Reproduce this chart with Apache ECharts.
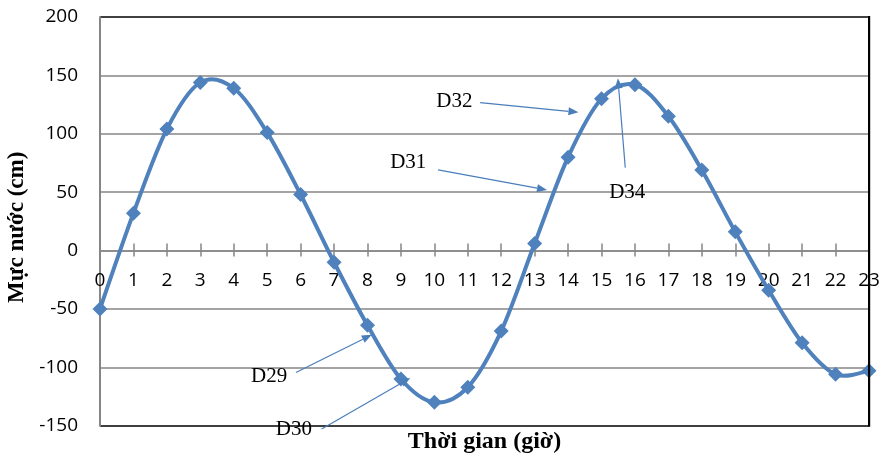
<!DOCTYPE html>
<html>
<head>
<meta charset="utf-8">
<script src="https://cdn.jsdelivr.net/npm/echarts@6/dist/echarts.min.js"></script>
<style>
html,body{margin:0;padding:0;background:#fff;}
#c{width:881px;height:458px;}
</style>
</head>
<body>
<div id="c"></div>
<script>
// Hours (x-axis ticks)
const hours = [0,1,2,3,4,5,6,7,8,9,10,11,12,13,14,15,16,17,18,19,20,21,22,23];
// Water level (cm)
const waterLevel = [-50, 32, 104, 144, 139, 101, 48, -10, -64, -110, -130, -117, -69, 6, 80, 130, 142, 115, 69, 16, -34, -79, -106, -103];
// Y-axis ticks
const yTicks = [-150, -100, -50, 0, 50, 100, 150, 200];

// Annotations (in data coordinates: [hour, cm])
const annLabels = ['D29', 'D30', 'D31', 'D32', 'D34'];
const annTextPos = [[5.06, -107.8], [5.80, -153.2], [9.22, 75.5], [10.60, 127.8], [15.77, 49.8]];
const annFrom = [[5.86, -104.4], [6.63, -152.8], [10.11, 69.1], [11.37, 126.6], [15.71, 71.0]];
const annTo = [[8.13, -72.1], [9.28, -109.2], [13.37, 51.9], [14.31, 118.4], [15.49, 147.5]];

const W = 881, H = 458;
const chart = echarts.init(document.getElementById('c'), null, {renderer: 'canvas'});
const labelFont = '"Open Sans", "Liberation Sans", sans-serif';
const serif = '"Liberation Serif", "DejaVu Serif", serif';
const blue = '#4F81BD';
const gray = '#868686';
const xMin = hours[0], xMax = hours[hours.length - 1];
const yMin = yTicks[0], yMax = yTicks[yTicks.length - 1];

const splitColors = yTicks.map((v, i) => (i === 0 || i === yTicks.length - 1) ? '#000' : gray);
// vertical split lines: only the last one (right frame) is visible
const xSplitColors = hours.map((h, i) => i === hours.length - 1 ? '#000' : 'rgba(0,0,0,0)');
const mainGrid = {left: 100, right: 12, top: 17, bottom: 32.3, outerBoundsMode: 'none'};

const seriesData = hours.map((h, i) => [h, waterLevel[i]]);
const N = seriesData.length;

// Smooth curve (Catmull-Rom style) drawn segment by segment through the library's coordinate system
function renderSegment(params, api) {
  const i = params.dataIndexInside;
  if (i >= N - 1) return null;
  const pt = k => {
    const kk = Math.max(0, Math.min(N - 1, k));
    return api.coord([api.value(0, kk), api.value(1, kk)]);
  };
  const p0 = pt(i - 1), p1 = pt(i), p2 = pt(i + 1), p3 = pt(i + 2);
  const t = 1 / 6;
  return {
    type: 'bezierCurve',
    shape: {
      x1: p1[0], y1: p1[1], x2: p2[0], y2: p2[1],
      cpx1: p1[0] + (p2[0] - p0[0]) * t, cpy1: p1[1] + (p2[1] - p0[1]) * t,
      cpx2: p2[0] - (p3[0] - p1[0]) * t, cpy2: p2[1] - (p3[1] - p1[1]) * t
    },
    style: {stroke: blue, lineWidth: 4, fill: null, lineCap: 'round'}
  };
}

const baseOption = {
  animation: false,
  grid: [mainGrid],
  xAxis: [{
    gridIndex: 0, type: 'value', position: 'bottom', min: xMin, max: xMax, interval: 1,
    axisLine: {show: false, onZero: false}, axisTick: {show: false}, axisLabel: {show: false},
    splitLine: {show: true, lineStyle: {color: xSplitColors, width: 2}},
    name: 'Thời gian (giờ)', nameLocation: 'middle', nameGap: 4,
    nameTextStyle: {color: '#000', fontSize: 24, fontWeight: 'bold', fontFamily: serif}
  }],
  yAxis: [
    {
      gridIndex: 0, type: 'value', position: 'left', min: yMin, max: yMax, interval: 50,
      axisLine: {show: true, onZero: false, lineStyle: {color: gray, width: 2}},
      axisTick: {show: false},
      axisLabel: {margin: 22, color: '#000', fontSize: 19, fontFamily: labelFont},
      splitLine: {show: true, lineStyle: {color: splitColors, width: 1.5}},
      name: 'Mực nước (cm)', nameLocation: 'middle', nameGap: 66, nameRotate: 90,
      nameTextStyle: {color: '#000', fontSize: 23, fontWeight: 'bold', fontFamily: serif, padding: [0, 12, 0, 0]}
    }
  ],
  series: [
    {
      type: 'custom', xAxisIndex: 0, yAxisIndex: 0,
      data: seriesData, renderItem: renderSegment, z: 3, clip: false
    },
    {
      type: 'line', xAxisIndex: 0, yAxisIndex: 0,
      data: seriesData,
      symbol: 'diamond', symbolSize: 15,
      lineStyle: {width: 0, opacity: 0},
      itemStyle: {color: blue},
      z: 4
    }
  ]
};
chart.setOption(baseOption);

// Pixel row of the zero level, from the library's y scale
const y0 = chart.convertToPixel({yAxisIndex: 0}, 0);

// Horizontal hour axis crossing at zero: one grid above the zero line (line, ticks down, labels),
// one grid below it (ticks pointing up), so ticks cross the line as in the reference.
chart.setOption({
  grid: [
    mainGrid,
    {left: 100, right: 12, top: 17, bottom: H - y0, outerBoundsMode: 'none'},
    {left: 100, right: 12, top: y0, bottom: 32.3, outerBoundsMode: 'none'}
  ],
  xAxis: [
    baseOption.xAxis[0],
    {
      gridIndex: 1, type: 'value', position: 'bottom', min: xMin, max: xMax, interval: 1,
      axisLine: {show: true, onZero: false, lineStyle: {color: gray, width: 1.5}},
      axisTick: {show: true, length: 6, lineStyle: {color: gray, width: 1.5}},
      axisLabel: {show: true, margin: 21, color: '#000', fontSize: 19, fontFamily: labelFont},
      splitLine: {show: false}
    },
    {
      gridIndex: 2, type: 'value', position: 'top', min: xMin, max: xMax, interval: 1,
      axisLine: {show: false, onZero: false},
      axisTick: {show: true, length: 7, lineStyle: {color: gray, width: 1.5}},
      axisLabel: {show: false}, splitLine: {show: false}
    }
  ],
  yAxis: [
    baseOption.yAxis[0],
    {gridIndex: 1, type: 'value', min: 0, max: 1, show: false},
    {gridIndex: 2, type: 'value', min: 0, max: 1, show: false}
  ]
});

const px = v => chart.convertToPixel({xAxisIndex: 0, yAxisIndex: 0}, v);
const gfx = [];
// Plot-area frame on the right side (black, as in the reference)
const rTop = px([xMax, yMax]), rBot = px([xMax, yMin]);
gfx.push({
  type: 'rect', z: 50,
  shape: {x: rTop[0] - 1, y: rTop[1] - 1, width: 2.2, height: rBot[1] - rTop[1] + 2},
  style: {fill: '#000'}
});
annLabels.forEach((lab, i) => {
  const tp = px(annTextPos[i]);
  const p1 = px(annFrom[i]);
  const p2 = px(annTo[i]);
  const dx = p2[0] - p1[0], dy = p2[1] - p1[1];
  const len = Math.sqrt(dx * dx + dy * dy);
  const ux = dx / len, uy = dy / len;
  const aL = 10, aW = 4;
  const bx = p2[0] - ux * aL, by = p2[1] - uy * aL;
  gfx.push({
    type: 'line', z: 100,
    shape: {x1: p1[0], y1: p1[1], x2: bx, y2: by},
    style: {stroke: '#4A7EBB', lineWidth: 1.2}
  });
  gfx.push({
    type: 'polygon', z: 100,
    shape: {points: [[p2[0], p2[1]], [bx - uy * aW, by + ux * aW], [bx + uy * aW, by - ux * aW]]},
    style: {fill: '#4A7EBB'}
  });
  gfx.push({
    type: 'text', z: 101,
    x: tp[0], y: tp[1],
    style: {text: lab, font: '21px ' + serif, fill: '#000', align: 'center', verticalAlign: 'middle', textAlign: 'center', textVerticalAlign: 'middle'}
  });
});
chart.setOption({graphic: gfx});
</script>
</body>
</html>
